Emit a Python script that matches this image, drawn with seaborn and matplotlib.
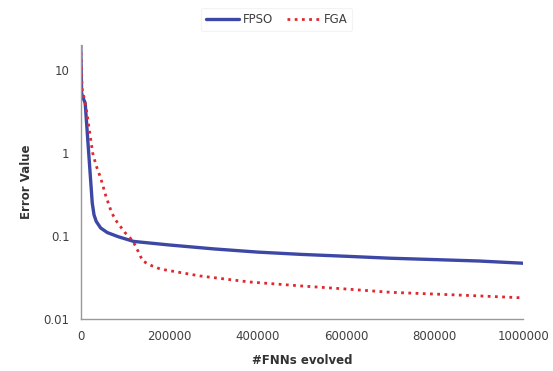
import matplotlib
matplotlib.use("Agg")
import matplotlib.pyplot as plt
import seaborn as sns
import pandas as pd

# valores
fpso_x = [0, 2000, 6000, 10000, 14000, 18000, 22000, 26000, 30000, 35000, 45000,
          60000, 85000, 120000, 200000, 300000, 400000, 500000, 600000, 700000,
          800000, 900000, 1000000]
fpso_y = [20, 5.2, 4.5, 4.0, 2.0, 1.0, 0.5, 0.25, 0.18, 0.15, 0.125,
          0.11, 0.098, 0.086, 0.078, 0.07, 0.064, 0.06, 0.057, 0.054,
          0.052, 0.05, 0.047]

fga_x = [0, 3000, 8000, 14000, 20000, 27000, 35000, 45000, 57000, 70000, 81000,
         100000, 118000, 130000, 140000, 160000, 180000, 270000, 380000, 500000,
         600000, 700000, 800000, 900000, 1000000]
fga_y = [20, 6, 4.5, 3.0, 1.8, 1.0, 0.7, 0.5, 0.3, 0.19, 0.15,
         0.11, 0.087, 0.065, 0.05, 0.044, 0.040, 0.033, 0.028, 0.025,
         0.023, 0.021, 0.020, 0.019, 0.018]

series_names = ["FPSO", "FGA"]
x_ticks = [0, 200000, 400000, 600000, 800000, 1000000]
y_ticks = [0.01, 0.1, 1, 10]
y_tick_labels = ["0.01", "0.1", "1", "10"]

sns.set_style("white")
plt.rcParams["font.family"] = ["DejaVu Sans"]

df = pd.concat([
    pd.DataFrame({"x": fpso_x, "y": fpso_y, "serie": series_names[0]}),
    pd.DataFrame({"x": fga_x, "y": fga_y, "serie": series_names[1]}),
])

fig = plt.figure(figsize=(5.53, 3.71), dpi=100)
ax = fig.add_axes([0.146, 0.14, 0.80, 0.739])

sns.lineplot(data=df[df.serie == "FPSO"], x="x", y="y", ax=ax, color="#3D47A6",
             linewidth=2.4, label="FPSO", legend=False)
sns.lineplot(data=df[df.serie == "FGA"], x="x", y="y", ax=ax, color="#E0282F",
             linewidth=2.0, linestyle=(0, (1, 1.6)), label="FGA", legend=False)

ax.set_yscale("log")
ax.set_ylim(0.01, 20)
ax.set_xlim(0, 1000000)
ax.set_yticks(y_ticks)
ax.set_yticklabels(y_tick_labels)
ax.minorticks_off()
ax.set_xticks(x_ticks)
ax.set_xticklabels([str(v) for v in x_ticks])

for s in ["top", "right"]:
    ax.spines[s].set_visible(False)
for s in ["left", "bottom"]:
    ax.spines[s].set_color("#999999")
    ax.spines[s].set_linewidth(1.0)
ax.tick_params(axis="both", direction="out", length=4, width=1, color="#999999",
               labelsize=8.5, labelcolor="#404040", pad=4)

ax.set_xlabel("#FNNs evolved", fontsize=8.5, fontweight="bold", color="#333333", labelpad=8)
ax.set_ylabel("Error Value", fontsize=8.5, fontweight="bold", color="#333333", labelpad=8)

handles, labels = ax.get_legend_handles_labels()
leg = fig.legend(handles, labels, loc="center", bbox_to_anchor=(0.5, 0.948), ncol=2,
                 frameon=True, fontsize=8.5, handlelength=2.8, columnspacing=1.2,
                 handletextpad=0.3, borderpad=0.4)
leg.get_frame().set_edgecolor("#f0f0f0")
leg.get_frame().set_linewidth(0.8)
for t in leg.get_texts():
    t.set_color("#404040")

fig.savefig("out.png", dpi=100)
